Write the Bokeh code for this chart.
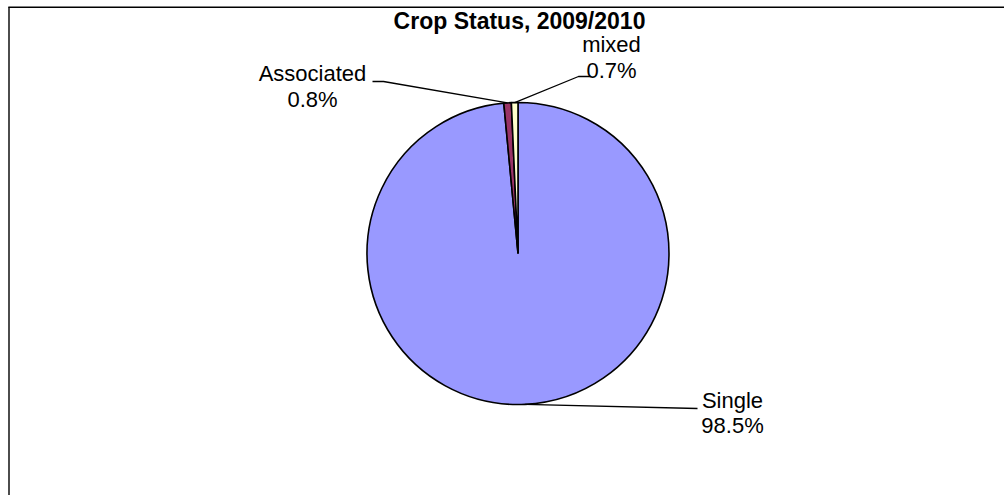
import math
from bokeh.plotting import figure
from bokeh.models import Range1d, ColumnDataSource, Label
from bokeh.embed import file_html
from bokeh.resources import INLINE
from bokeh.core.properties import value

# ---- data ----
title = "Crop Status, 2009/2010"
categories = ["Single", "Associated", "mixed"]
percents = [98.5, 0.8, 0.7]
pct_labels = ["98.5%", "0.8%", "0.7%"]
colors = ["#9999FF", "#993366", "#FFFFCC"]

# ---- layout helpers (picture pixel -> data) ----
W, H = 1004, 495
def px(x):
    return x
def py(y):
    return H - y

p = figure(width=W, height=H, output_backend="svg", toolbar_location=None,
           x_range=Range1d(0, W), y_range=Range1d(0, H), min_border=0,
           x_axis_location=None, y_axis_location=None)
p.grid.visible = False
p.outline_line_color = None
p.background_fill_color = "white"
p.border_fill_color = "white"

FONT = "Liberation Sans"

# chart-area border (left and top edges visible)
p.segment(x0=[px(7.8), px(8.5)], y0=[py(6.8), py(6.8)],
          x1=[px(1010), px(8.5)], y1=[py(6.8), py(500)],
          line_color="black", line_width=1.4)

# title
p.add_layout(Label(x=px(519), y=py(20), text=title, text_font=FONT,
                   text_font_style="bold", text_font_size="23px",
                   text_align="center", text_baseline="alphabetic",
                   text_color="black"))

# ---- pie ----
cx, cy, r = px(517.5), py(253), 151
total = sum(percents)
starts, ends, mids = [], [], []
cum = 0.0
for v in percents:
    a0 = math.radians(90 - (cum + v) / total * 360)
    a1 = math.radians(90 - cum / total * 360)
    starts.append(a0)
    ends.append(a1)
    mids.append((a0 + a1) / 2)
    cum += v

src = ColumnDataSource(dict(start=starts, end=ends, color=colors, cat=categories))
p.wedge(x=cx, y=cy, radius=r, start_angle="start", end_angle="end",
        direction="anticlock", fill_color="color", line_color="black",
        line_width=1.6, source=src)

# ---- labels and leader lines ----
label_x = [732, 312, 611]
label_base1 = [400, 73, 44]
label_base2 = [425, 99, 69.5]
leader_end = [(697, 408), (372, 81), (590, 76)]
leader_knee = [None, (383, 81), (578, 76)]

xs, ys = [], []
for i in range(len(categories)):
    ex = cx + r * math.cos(mids[i])
    ey = cy + r * math.sin(mids[i])
    lx, ly = [ex], [ey]
    if leader_knee[i] is not None:
        lx.append(px(leader_knee[i][0]))
        ly.append(py(leader_knee[i][1]))
    lx.append(px(leader_end[i][0]))
    ly.append(py(leader_end[i][1]))
    xs.append(lx)
    ys.append(ly)
p.multi_line(xs=xs, ys=ys, line_color="black", line_width=1.3)

p.text(x=[px(v) for v in label_x], y=[py(v) for v in label_base1], text=categories,
       text_font=value(FONT), text_font_size="22px", text_align="center",
       text_baseline="alphabetic", text_color="black")
p.text(x=[px(v) for v in label_x], y=[py(v) for v in label_base2], text=pct_labels,
       text_font=value(FONT), text_font_size="22px", text_align="center",
       text_baseline="alphabetic", text_color="black")

open("out.html", "w").write(file_html(p, INLINE))
